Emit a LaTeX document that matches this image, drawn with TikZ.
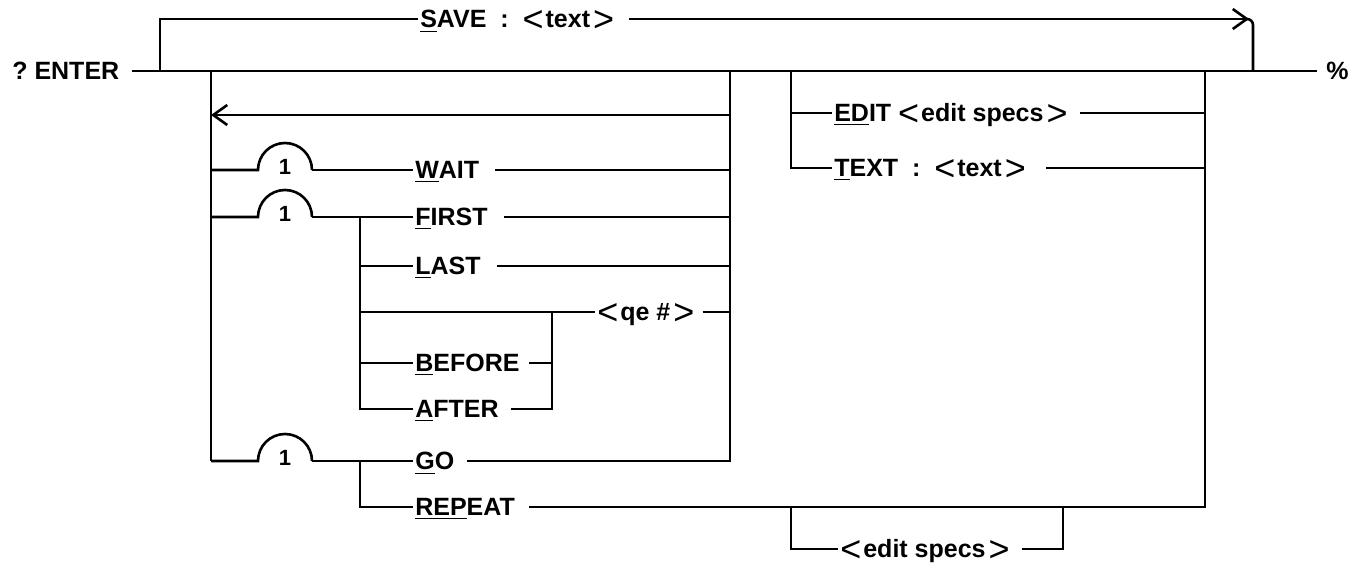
\documentclass[tikz,border=0pt]{standalone}
\usepackage{fontspec}
\setmainfont{Liberation Sans}
\usetikzlibrary{arrows.meta}
\newcommand{\lbk}{\raisebox{-1.9pt}{\mdseries\fontsize{18}{18}\selectfont<}\hspace{1pt}}
\newcommand{\rbk}{\hspace{1.5pt}\raisebox{-1.9pt}{\mdseries\fontsize{18}{18}\selectfont>}}

\begin{document}
\begin{tikzpicture}[x=0.5pt, y=-0.5pt, line width=1.3pt,
      kw/.style={anchor=west, inner xsep=0.5pt, inner ysep=0pt, text height=8.95pt, text depth=0pt,
                 font=\bfseries\fontsize{12.5}{15}\selectfont},
      one/.style={inner sep=0pt, font=\bfseries\fontsize{11}{13}\selectfont},
      arr/.style={-{Straight Barb[length=7pt, width=10pt]}}]
    \useasboundingbox (0,0) rectangle (1364,567);
    % keywords
    \node[kw] (enter) at (10,71) {?\ ENTER};
    \node[kw] (pct) at (1324,71) {\%};
    \node[kw] (save) at (418,19) {\underline{S}AVE\ \ :\ \ \lbk text\rbk};
    \node[kw] (wait) at (413,170) {\underline{W}AIT};
    \node[kw] (first) at (413,217) {\underline{F}IRST};
    \node[kw] (last) at (413,266) {\underline{L}AST};
    \node[kw] (qe) at (595,312) {\lbk qe \#\rbk};
    \node[kw] (before) at (413,363) {\underline{B}EFORE};
    \node[kw] (after) at (413,409) {\underline{A}FTER};
    \node[kw] (go) at (413,461) {\underline{G}O};
    \node[kw] (repeat) at (413,507) {\underline{REP}EAT};
    \node[kw] (edit) at (832,113) {\underline{ED}IT \lbk edit specs\rbk};
    \node[kw] (txt) at (832,168) {\underline{T}EXT\ \ :\ \ \lbk text\rbk};
    \node[kw] (espec) at (838,549) {\lbk edit specs\rbk};
    % junctions
    \coordinate (sL) at (160,71);  \coordinate (sR) at (1253,71);
    \coordinate (iL) at (211,71);  \coordinate (iR) at (730,71);
    \coordinate (eL) at (791,71);  \coordinate (eR) at (1205,71);
    \coordinate (back) at (211,115);
    \coordinate (fj) at (360,217);  \coordinate (gj) at (360,461);
    \coordinate (qj) at (552,312);
    \coordinate (rL) at (791,507);  \coordinate (rR) at (1063,507);
    % main line and SAVE
    \draw ([xshift=5pt]enter.east) -- ([xshift=-3.5pt]pct.west);
    \draw (sL) |- (save.west);
    \draw[arr] ([xshift=6.5pt]save.east) -- ([xshift=-2pt]save.east -| sR);
    \draw[rounded corners=3pt] ([xshift=-4pt]save.east -| sR) -| (sR);
    % left loop
    \draw (iL) -- (iL |- go);
    \draw[arr] (back -| iR) -- (back);
    \foreach \y/\n in {170/oneW, 217/oneF, 461/oneG}{
      \draw (211,\y) -- ++(47,0) arc[start angle=180, end angle=0, radius=13.5pt] coordinate (\n);
      \node[one] (\n1) at ([xshift=-13.5pt, yshift=1.5pt]\n) {1};
    }
    \draw (oneW) -- (wait.west);  \draw ([xshift=7pt]wait.east) -- (wait.east -| iR);
    \draw (oneF) -- (first.west); \draw ([xshift=7pt]first.east) -- (first.east -| iR);
    \draw (fj) |- (after.west);   \draw ([xshift=5pt]after.east) -| (qj);
    \draw (fj |- last) -- (last.west);  \draw ([xshift=7pt]last.east) -- (last.east -| iR);
    \draw (fj |- qe) -- (qe.west);  \draw ([xshift=3pt]qe.east) -- (qe.east -| iR);
    \draw (fj |- before) -- (before.west);  \draw ([xshift=3.5pt]before.east) -| (qj);
    \draw (oneG) -- (go.west);  \draw ([xshift=5.5pt]go.east) -| (iR);
    \draw (gj) |- (repeat.west);  \draw ([xshift=6pt]repeat.east) -| (eR);
    % EDIT and TEXT
    \draw (eL) |- (txt.west);  \draw (eL |- edit) -- (edit.west);
    \draw ([xshift=5pt]edit.east) -- (edit.east -| eR);
    \draw ([xshift=9pt]txt.east) -- (txt.east -| eR);
    \draw (rL) |- (espec.west);  \draw ([xshift=5pt]espec.east) -| (rR);
  \end{tikzpicture}
\end{document}
